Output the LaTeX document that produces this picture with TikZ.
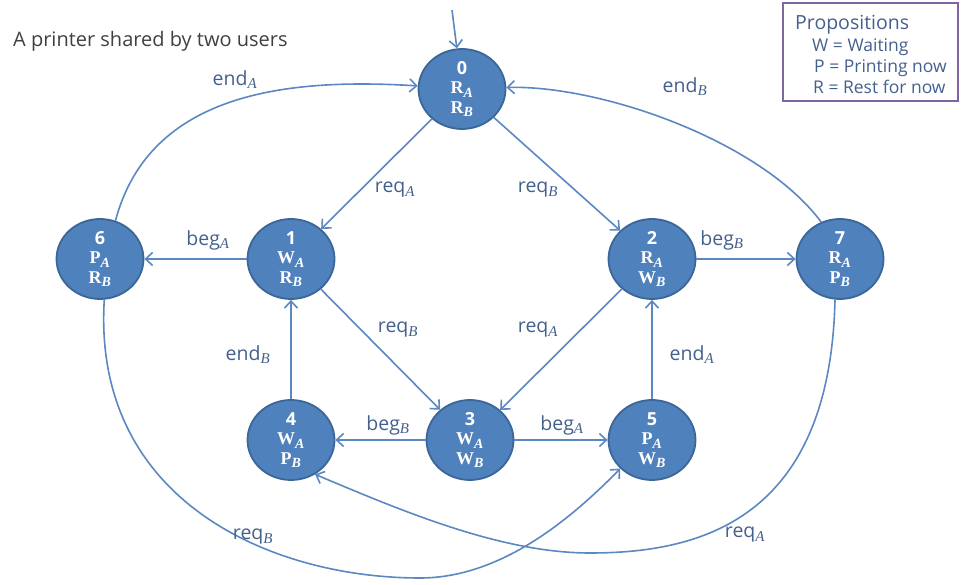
\documentclass[tikz,border=0pt]{standalone}
\usepackage{fontspec}
\setmainfont{Open Sans}
\newfontfamily\tnr{Liberation Serif}
\usetikzlibrary{arrows.meta,shapes.geometric}
\definecolor{nodefill}{HTML}{4F81BD}
\definecolor{nodeline}{HTML}{3B6698}
\definecolor{edgecol}{HTML}{5B87C2}
\definecolor{labcol}{HTML}{44608C}
\definecolor{titlecol}{HTML}{404040}
\definecolor{boxcol}{HTML}{8064A2}
\newcommand\lsub[1]{\textsubscript{{\tnr\itshape\fontsize{15}{15}\selectfont #1}}}
\newcommand\nsub[1]{\textsubscript{{\tnr\bfseries\itshape\fontsize{14}{14}\selectfont #1}}}
\newcommand\stt[3]{{\bfseries #1}\\{\tnr\bfseries #2}\\{\tnr\bfseries #3}}
\begin{document}
\begin{tikzpicture}[x=1pt,y=1pt,
  state/.style={ellipse, draw=nodeline, line width=1.8pt, fill=nodefill,
    minimum width=87pt, minimum height=80pt, inner sep=0pt, text=white,
    align=center, font=\fontsize{18}{19.5}\selectfont},
  tr/.style={draw=edgecol, line width=1.6pt, -{Straight Barb[length=7pt,width=13pt]}},
  lab/.style={text=labcol, font=\fontsize{19.5}{22}\selectfont, inner sep=0pt},
  prop/.style={text=labcol, anchor=base west, inner sep=0pt, font=\fontsize{17.5}{20}\selectfont}]
\useasboundingbox (0,0) rectangle (967,584);
% title
\node[anchor=base west, inner sep=0pt, text=titlecol, font=\fontsize{20}{24}\selectfont] (title) at (13,537) {A printer shared by two users};
% propositions box
\node[draw=boxcol, line width=2.5pt, minimum width=175pt, minimum height=98pt, inner sep=0pt] (pbox) at (870.5,532) {};
\node[prop, font=\fontsize{19.5}{22}\selectfont] (p0) at (795,554) {Propositions};
\node[prop] (p1) at (812,532) {W = Waiting};
\node[prop] (p2) at (814,511) {P = Printing now};
\node[prop] (p3) at (813,490) {R = Rest for now};
% states
\node[state] (n0) at (462,495) {\stt{0}{R\nsub{A}}{R\nsub{B}}};
\node[state] (n1) at (291,325) {\stt{1}{W\nsub{A}}{R\nsub{B}}};
\node[state] (n6) at (100,325) {\stt{6}{P\nsub{A}}{R\nsub{B}}};
\node[state] (n2) at (652,325) {\stt{2}{R\nsub{A}}{W\nsub{B}}};
\node[state] (n7) at (840,325) {\stt{7}{R\nsub{A}}{P\nsub{B}}};
\node[state] (n3) at (470,144) {\stt{3}{W\nsub{A}}{W\nsub{B}}};
\node[state] (n4) at (291,144) {\stt{4}{W\nsub{A}}{P\nsub{B}}};
\node[state] (n5) at (652,144) {\stt{5}{P\nsub{A}}{W\nsub{B}}};
% initial
\coordinate (init) at (452,574);
\draw[tr] (init) -- (n0);
% straight transitions
\draw[tr] (n0) -- (n1);
\draw[tr] (n0) -- (n2);
\draw[tr] (n1) -- (n6);
\draw[tr] (n2) -- (n7);
\draw[tr] (n1) -- (n3);
\draw[tr] (n2) -- (n3);
\draw[tr] (n4) -- (n1);
\draw[tr] (n5) -- (n2);
\draw[tr] (n3) -- (n4);
\draw[tr] (n3) -- (n5);
% curved transitions
\draw[tr] (n6.68) .. controls (150,493) and (290,506) .. (n0.176);
\draw[tr] (n7.117) .. controls (760,444) and (600,499) .. (n0.2);
\draw[tr] (n6.-84) .. controls (92,84) and (270,6) .. (420,6) .. controls (500,6) and (570,64) .. (n5.-138);
\draw[tr] (n7.-97) .. controls (830,64) and (700,31) .. (590,31) .. controls (500,31) and (400,74) .. (n4.-55);
% labels
\node[lab] (lreqA1) at (395,394) {req\lsub{A}};
\node[lab] (lreqB1) at (538,394) {req\lsub{B}};
\node[lab] (lreqB2) at (398,254) {req\lsub{B}};
\node[lab] (lreqA2) at (538,254) {req\lsub{A}};
\node[lab] (lbegA1) at (208,344) {beg\lsub{A}};
\node[lab] (lbegB1) at (722,344) {beg\lsub{B}};
\node[lab] (lendA1) at (235,504) {end\lsub{A}};
\node[lab] (lendB1) at (685,497) {end\lsub{B}};
\node[lab] (lendB2) at (248,229) {end\lsub{B}};
\node[lab] (lendA2) at (692,229) {end\lsub{A}};
\node[lab] (lbegB2) at (388,159) {beg\lsub{B}};
\node[lab] (lbegA2) at (562,159) {beg\lsub{A}};
\node[lab] (lreqB3) at (253,47) {req\lsub{B}};
\node[lab] (lreqA3) at (745,49) {req\lsub{A}};
\end{tikzpicture}
\end{document}
